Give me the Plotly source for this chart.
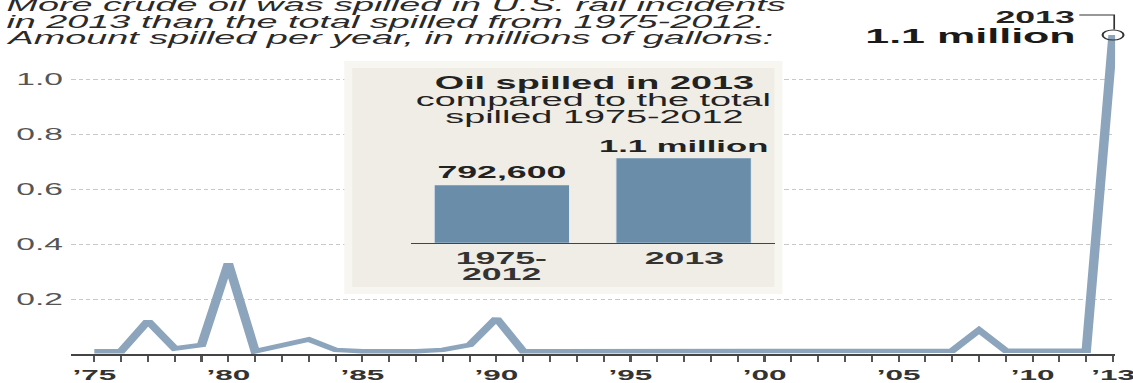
import plotly.graph_objects as go

# ---------------- data ----------------
years = list(range(1975, 2014))
spilled = [0.01, 0.01, 0.12, 0.02, 0.033, 0.33, 0.01, 0.03, 0.053, 0.015,
           0.01, 0.01, 0.01, 0.015, 0.033, 0.13, 0.01, 0.01, 0.01, 0.01,
           0.01, 0.01, 0.01, 0.01, 0.01, 0.01, 0.01, 0.01, 0.01, 0.01,
           0.01, 0.01, 0.012, 0.087, 0.012, 0.012, 0.012, 0.012, 1.16]
labeled_years = {1975: "’75", 1980: "’80", 1985: "’85", 1990: "’90", 1995: "’95",
                 2000: "’00", 2005: "’05", 2010: "’10", 2013: "’13"}
y_ticks = [0.2, 0.4, 0.6, 0.8, 1.0]
y_ticklabels = ["0.2", "0.4", "0.6", "0.8", "1.0"]

inset_categories = ["1975-2012", "2013"]
inset_ticklabels = [["1975-", "2012"], ["2013"]]
inset_values = [0.7926, 1.16]
inset_texts = ["792,600", "1.1 million"]

title_lines = ["More crude oil was spilled in U.S. rail incidents",
               "in 2013 than the total spilled from 1975-2012.",
               "Amount spilled per year, in millions of gallons:"]
inset_title = ["Oil spilled in 2013", "compared to the total", "spilled 1975-2012"]
callout_year = "2013"
callout_value = "1.1 million"

# ---------------- geometry ----------------
# The reference graphic is horizontally stretched; the figure is built at
# 1/STRETCH of the width and then stretched back on the page.
STRETCH = 2.1
W_REF, H = 1133, 383
W = W_REF / STRETCH
L_REF, R_REF, T, B = 72, 13, 0, 29
PW_REF, PH = W_REF - L_REF - R_REF, H - T - B
PX_YEAR = 26.92           # reference px per year
X1975 = 95                # reference px of 1975
PX_UNIT = 275.0           # px per million gallons
x_range = [1975 - (X1975 - L_REF) / PX_YEAR, 1975 + (W_REF - R_REF - X1975) / PX_YEAR]
y_range = [0, PH / PX_UNIT]

def xp(px):
    return (px - L_REF) / PW_REF

def yp(py):
    return (T + PH - py) / PH

def xd(px):
    return 1975 + (px - X1975) / PX_YEAR

def yd(py):
    return (T + PH - py) / PX_UNIT

FONT = "Liberation Sans"
LINE_COLOR = "#8da5bc"
BAR_COLOR = "#6a8ea9"

fig = go.Figure()

fig.add_trace(go.Scatter(
    x=years, y=spilled, mode="lines",
    line=dict(color=LINE_COLOR, width=4.5),
    hoverinfo="skip", showlegend=False))

fig.add_trace(go.Scatter(
    x=[years[-1]], y=[spilled[-1]], mode="markers",
    marker=dict(symbol="circle-open", size=10, color="#333333", line=dict(width=1)),
    cliponaxis=False, hoverinfo="skip", showlegend=False))

fig.add_trace(go.Bar(
    x=inset_categories, y=inset_values, xaxis="x2", yaxis="y2",
    marker=dict(color=BAR_COLOR), width=0.745,
    text=inset_texts, textposition="outside", cliponaxis=False, constraintext="none",
    textfont=dict(family=FONT, size=[17, 16.5], color="#222222", weight="bold"),
    hoverinfo="skip", showlegend=False))

tickvals = years
ticktext = [labeled_years.get(y, "") for y in years]

annotations = []
for i, line in enumerate(title_lines):
    annotations.append(dict(
        text="<i>" + line + "</i>", xref="paper", yref="paper",
        x=xp(4), y=yp([5, 22, 38][i]), xanchor="left", yanchor="middle",
        showarrow=False, font=dict(family=FONT, size=18, color="#2a2a2a"), borderpad=0))

annotations.append(dict(text="<b>" + callout_year + "</b>", xref="paper", yref="paper",
                        x=xp(1081), y=yp(18), xanchor="right", yanchor="middle",
                        showarrow=False, borderpad=0,
                        font=dict(family=FONT, size=17, color="#222222")))
annotations.append(dict(text="<b>" + callout_value + "</b>", xref="paper", yref="paper",
                        x=xp(1081), y=yp(36), xanchor="right", yanchor="middle",
                        showarrow=False, borderpad=0,
                        font=dict(family=FONT, size=20.5, color="#1a1a1a")))

for i, line in enumerate(inset_title):
    txt = "<b>" + line + "</b>" if i == 0 else line
    annotations.append(dict(text=txt, xref="paper", yref="paper",
                            x=xp(597), y=yp([83, 100, 117][i]), xanchor="center",
                            yanchor="middle", showarrow=False, borderpad=0,
                            font=dict(family=FONT, size=18, color="#222222")))

for k, lines in enumerate(inset_ticklabels):
    for j, line in enumerate(lines):
        annotations.append(dict(text="<b>" + line + "</b>", xref="x2", yref="paper",
                                x=k, y=yp(258 + 16 * j), xanchor="center",
                                yanchor="middle", showarrow=False, borderpad=0,
                                font=dict(family=FONT, size=17, color="#333333")))

shapes = [
    dict(type="rect", xref="x", yref="y", layer="between",
         x0=xd(346), x1=xd(786), y0=yd(294), y1=yd(61),
         fillcolor="#f7f6f1", line=dict(width=0)),
    dict(type="rect", xref="x", yref="y", layer="between",
         x0=xd(354), x1=xd(778), y0=yd(287), y1=yd(68),
         fillcolor="#efede5", line=dict(width=0)),
    # leader line from the "2013" label down to the 2013 point
    dict(type="path", xref="x", yref="y", layer="above",
         path="M {a},{b} L {c},{b} L {c},{d}".format(
             a=xd(1084), b=yd(15), c=years[-1] + 0.05, d=spilled[-1] + 5.5 / PX_UNIT),
         line=dict(color="#333333", width=1)),
]

fig.update_layout(
    width=W, height=H,
    margin=dict(l=L_REF / STRETCH, r=R_REF / STRETCH, t=T, b=B, pad=0),
    paper_bgcolor="white", plot_bgcolor="rgba(0,0,0,0)",
    font=dict(family=FONT),
    xaxis=dict(range=x_range, tickvals=tickvals, ticktext=ticktext,
               ticks="outside", ticklen=6, tickwidth=1, tickcolor="#555555",
               showline=True, linecolor="#444444", linewidth=1.5,
               showgrid=False, zeroline=False, ticklabeloverflow="allow",
               tickfont=dict(family=FONT, size=15, color="#333333", weight="bold")),
    yaxis=dict(range=y_range, tickvals=y_ticks, ticktext=y_ticklabels,
               ticks="", ticklabelstandoff=3,
               showgrid=True, gridcolor="#c8c8c8", gridwidth=1, griddash="2px,1.5px",
               zeroline=False, showline=False,
               tickfont=dict(family=FONT, size=16, color="#555555")),
    xaxis2=dict(domain=[xp(413), xp(778)], anchor="y2", type="category",
                range=[-0.5, 1.5], showticklabels=False,
                ticks="", showline=True, linecolor="#444444", linewidth=1,
                showgrid=False, zeroline=False),
    yaxis2=dict(domain=[yp(243), yp(158)], anchor="x2", range=[0, inset_values[1]],
                visible=False),
    annotations=annotations,
    shapes=shapes,
)

post = (
    "document.documentElement.style.margin='0';"
    "document.body.style.margin='0';"
    "document.body.style.overflow='hidden';"
    "var gd=document.getElementById('{plot_id}');"
    "gd.style.transformOrigin='0 0';"
    "gd.style.transform='scaleX(" + str(STRETCH) + ")';"
)

fig.write_html("out.html", config=dict(displayModeBar=False), post_script=post)
